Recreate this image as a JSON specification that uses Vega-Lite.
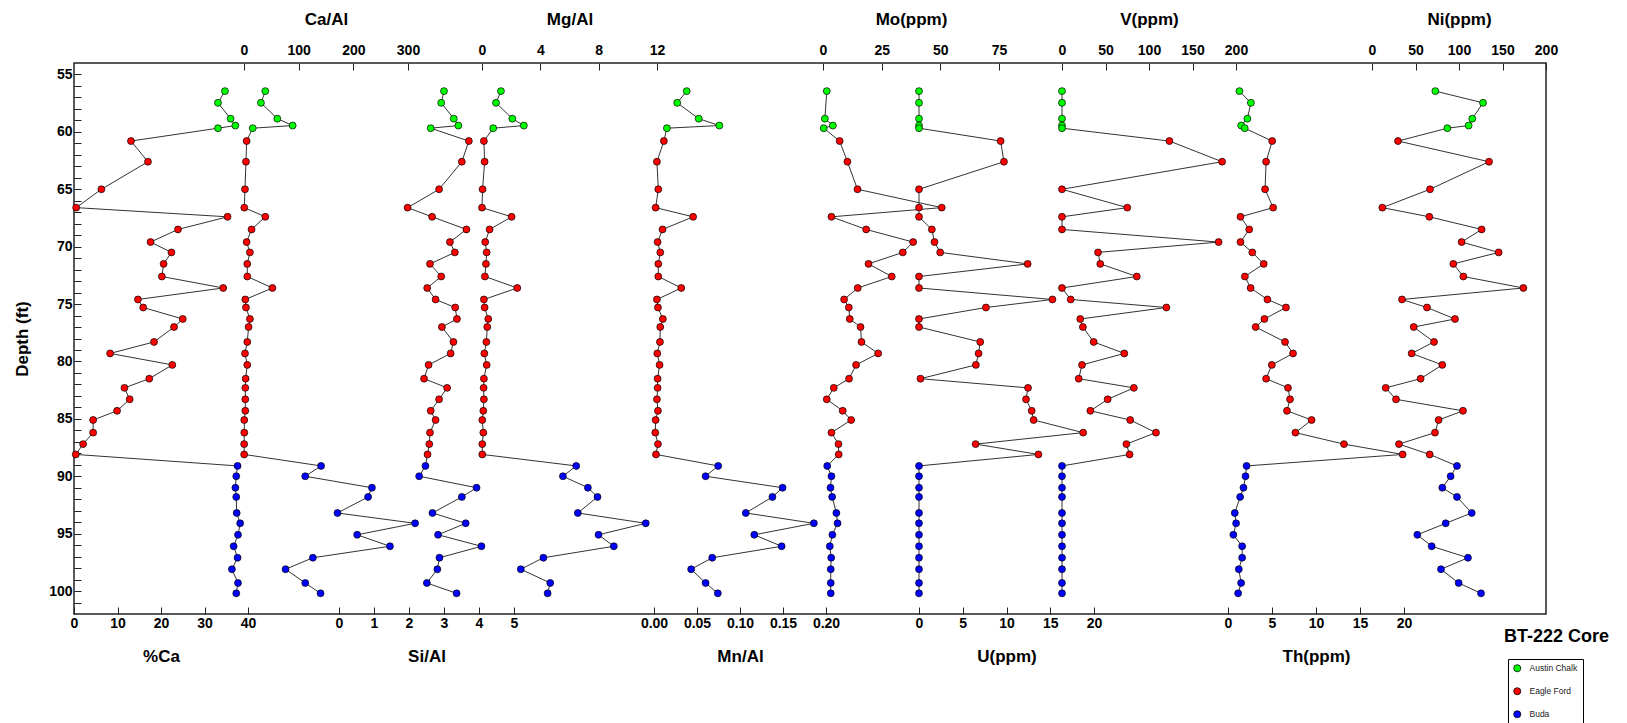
{
  "$schema": "https://vega.github.io/schema/vega-lite/v6.json",
  "width": 1472,
  "height": 551,
  "autosize": {"type": "none"},
  "padding": {"left": 74, "top": 63, "right": 81, "bottom": 109},
  "background": "white",
  "title": {"text": "BT-222 Core", "orient": "bottom", "anchor": "end", "frame": "group", "fontSize": 18, "fontWeight": "bold", "font": "Liberation Sans", "color": "black", "dx": 63, "dy": -102},
  "config": {
    "view": {"stroke": "#222", "strokeWidth": 1.5},
    "axis": {"domain": false, "grid": false, "tickColor": "#222", "tickWidth": 1, "labelFont": "Liberation Sans", "labelFontSize": 14, "labelFontWeight": "bold", "labelColor": "black", "titleFont": "Liberation Sans", "titleFontSize": 17, "titleFontWeight": "bold", "titleColor": "black", "labelFlush": false, "labelOverlap": false, "labelBound": false},
    "axisTop": {"tickSize": -7, "labelPadding": 13, "titlePadding": 15},
    "axisBottom": {"tickSize": -7, "labelPadding": 9, "titlePadding": 18}
  },
  "data": {"values": [
    {"d": 56.45, "f": "Austin Chalk", "ca": 34.7, "caal": 39, "sial": 3.00, "mgal": 1.30, "mnal": 0.038, "mo": 1.6, "u": 0, "v": 0, "th": 1.3, "ni": 72.8},
    {"d": 57.47, "f": "Austin Chalk", "ca": 33.1, "caal": 31, "sial": 2.92, "mgal": 0.96, "mnal": 0.027, "mo": null, "u": 0, "v": 0, "th": 2.6, "ni": 127.6},
    {"d": 58.85, "f": "Austin Chalk", "ca": 36.0, "caal": 61, "sial": 3.28, "mgal": 2.08, "mnal": 0.052, "mo": 0.8, "u": 0, "v": 0, "th": 2.2, "ni": 115.3},
    {"d": 59.45, "f": "Austin Chalk", "ca": 37.1, "caal": 89, "sial": 3.41, "mgal": 2.87, "mnal": 0.076, "mo": 4.2, "u": 0, "v": 0, "th": 1.5, "ni": 111.1},
    {"d": 59.68, "f": "Austin Chalk", "ca": 33.1, "caal": 16, "sial": 2.62, "mgal": 0.77, "mnal": 0.015, "mo": 0.3, "u": 0, "v": 0, "th": 1.9, "ni": 86.6},
    {"d": 60.8, "f": "Eagle Ford", "ca": 13.1, "caal": 4.8, "sial": 3.71, "mgal": 0.13, "mnal": 0.0115, "mo": 7.1, "u": 9.33, "v": 123.5, "th": 5.02, "ni": 29.9},
    {"d": 62.6, "f": "Eagle Ford", "ca": 17.0, "caal": 3.6, "sial": 3.51, "mgal": 0.18, "mnal": 0.0034, "mo": 10.4, "u": 9.71, "v": 184, "th": 4.33, "ni": 134.5},
    {"d": 65.0, "f": "Eagle Ford", "ca": 6.3, "caal": 1.8, "sial": 2.86, "mgal": 0.04, "mnal": 0.005, "mo": 14.7, "u": 0, "v": 0, "th": 4.21, "ni": 66.7},
    {"d": 66.6, "f": "Eagle Ford", "ca": 0.5, "caal": 0.5, "sial": 1.96, "mgal": 0.0, "mnal": 0.0019, "mo": 50.6, "u": 0, "v": 75, "th": 5.13, "ni": 11.9},
    {"d": 67.4, "f": "Eagle Ford", "ca": 35.3, "caal": 39, "sial": 2.66, "mgal": 2.03, "mnal": 0.0455, "mo": 3.6, "u": 0, "v": 0, "th": 1.42, "ni": 65.9},
    {"d": 68.5, "f": "Eagle Ford", "ca": 23.9, "caal": 13.8, "sial": 3.64, "mgal": 0.52, "mnal": 0.0099, "mo": 18.4, "u": 1.47, "v": 0, "th": 2.41, "ni": 126},
    {"d": 69.6, "f": "Eagle Ford", "ca": 17.6, "caal": 4.8, "sial": 3.17, "mgal": 0.22, "mnal": 0.0042, "mo": 38.4, "u": 1.77, "v": 180, "th": 1.42, "ni": 103},
    {"d": 70.5, "f": "Eagle Ford", "ca": 22.4, "caal": 10.8, "sial": 3.31, "mgal": 0.32, "mnal": 0.0073, "mo": 34.0, "u": 2.42, "v": 41.4, "th": 2.76, "ni": 145.6},
    {"d": 71.5, "f": "Eagle Ford", "ca": 20.6, "caal": 6, "sial": 2.60, "mgal": 0.27, "mnal": 0.005, "mo": 19.4, "u": 12.42, "v": 44, "th": 4.06, "ni": 93.5},
    {"d": 72.6, "f": "Eagle Ford", "ca": 20.2, "caal": 6, "sial": 2.92, "mgal": 0.20, "mnal": 0.005, "mo": 29.3, "u": 0, "v": 86, "th": 1.92, "ni": 105},
    {"d": 73.6, "f": "Eagle Ford", "ca": 34.3, "caal": 52, "sial": 2.52, "mgal": 2.42, "mnal": 0.0317, "mo": 14.8, "u": 0, "v": 0, "th": 2.57, "ni": 174},
    {"d": 74.6, "f": "Eagle Ford", "ca": 14.7, "caal": 2.4, "sial": 2.76, "mgal": 0.13, "mnal": 0.0034, "mo": 9.0, "u": 15.25, "v": 10, "th": 4.48, "ni": 34.5},
    {"d": 75.3, "f": "Eagle Ford", "ca": 15.9, "caal": 3.6, "sial": 3.32, "mgal": 0.18, "mnal": 0.0046, "mo": 11.0, "u": 7.65, "v": 120, "th": 6.59, "ni": 63.2},
    {"d": 76.3, "f": "Eagle Ford", "ca": 25.0, "caal": 10.8, "sial": 3.37, "mgal": 0.43, "mnal": 0.0103, "mo": 11.4, "u": 0, "v": 21, "th": 4.14, "ni": 95.4},
    {"d": 77.0, "f": "Eagle Ford", "ca": 23.0, "caal": 8.4, "sial": 2.94, "mgal": 0.36, "mnal": 0.0073, "mo": 16.0, "u": 0, "v": 24, "th": 3.14, "ni": 47.9},
    {"d": 78.3, "f": "Eagle Ford", "ca": 18.4, "caal": 6, "sial": 3.27, "mgal": 0.30, "mnal": 0.0069, "mo": 16.4, "u": 7.0, "v": 36.4, "th": 6.48, "ni": 71.3},
    {"d": 79.3, "f": "Eagle Ford", "ca": 8.3, "caal": 1.8, "sial": 3.19, "mgal": 0.16, "mnal": 0.0038, "mo": 23.5, "u": 6.81, "v": 71.6, "th": 7.39, "ni": 45.6},
    {"d": 80.3, "f": "Eagle Ford", "ca": 22.6, "caal": 6, "sial": 2.56, "mgal": 0.32, "mnal": 0.0065, "mo": 14.1, "u": 6.5, "v": 23, "th": 4.98, "ni": 80.8},
    {"d": 81.5, "f": "Eagle Ford", "ca": 17.3, "caal": 3, "sial": 2.43, "mgal": 0.13, "mnal": 0.0042, "mo": 11.1, "u": 0.17, "v": 19.2, "th": 4.33, "ni": 55.9},
    {"d": 82.3, "f": "Eagle Ford", "ca": 11.6, "caal": 2.4, "sial": 3.09, "mgal": 0.11, "mnal": 0.0042, "mo": 4.6, "u": 12.46, "v": 82.6, "th": 6.82, "ni": 15.7},
    {"d": 83.3, "f": "Eagle Ford", "ca": 12.8, "caal": 2.4, "sial": 2.86, "mgal": 0.13, "mnal": 0.0034, "mo": 1.6, "u": 12.23, "v": 52.5, "th": 7.05, "ni": 27.6},
    {"d": 84.3, "f": "Eagle Ford", "ca": 9.9, "caal": 2.4, "sial": 2.62, "mgal": 0.09, "mnal": 0.0046, "mo": 8.4, "u": 12.88, "v": 32.6, "th": 6.70, "ni": 104.6},
    {"d": 85.1, "f": "Eagle Ford", "ca": 4.4, "caal": 0.5, "sial": 2.76, "mgal": 0.02, "mnal": 0.0019, "mo": 12.0, "u": 13.1, "v": 78.4, "th": 9.50, "ni": 76.6},
    {"d": 86.2, "f": "Eagle Ford", "ca": 4.4, "caal": 0.5, "sial": 2.60, "mgal": 0.09, "mnal": 0.0015, "mo": 3.6, "u": 18.76, "v": 108, "th": 7.66, "ni": 72.4},
    {"d": 87.2, "f": "Eagle Ford", "ca": 2.1, "caal": 0.3, "sial": 2.58, "mgal": 0.02, "mnal": 0.0046, "mo": 6.6, "u": 6.47, "v": 74, "th": 13.18, "ni": 31.0},
    {"d": 88.1, "f": "Eagle Ford", "ca": 0.4, "caal": 0.3, "sial": 2.53, "mgal": 0.02, "mnal": 0.0023, "mo": 6.7, "u": 13.65, "v": 77.7, "th": 19.85, "ni": 66.3},
    {"d": 89.1, "f": "Buda", "ca": 37.6, "caal": 141, "sial": 2.47, "mgal": 6.46, "mnal": 0.0746, "mo": 1.8, "u": 0, "v": 0, "th": 2.11, "ni": 97.7},
    {"d": 90.0, "f": "Buda", "ca": 37.3, "caal": 112, "sial": 2.29, "mgal": 5.55, "mnal": 0.060, "mo": 3.6, "u": 0, "v": 0, "th": 1.99, "ni": 90.4},
    {"d": 91.0, "f": "Buda", "ca": 37.1, "caal": 234, "sial": 3.93, "mgal": 7.26, "mnal": 0.1495, "mo": 3.2, "u": 0, "v": 0, "th": 1.76, "ni": 80.8},
    {"d": 91.8, "f": "Buda", "ca": 37.3, "caal": 227, "sial": 3.51, "mgal": 7.92, "mnal": 0.1377, "mo": 3.9, "u": 0, "v": 0, "th": 1.38, "ni": 97.7},
    {"d": 93.2, "f": "Buda", "ca": 37.4, "caal": 171, "sial": 2.67, "mgal": 6.57, "mnal": 0.1067, "mo": 5.7, "u": 0, "v": 0, "th": 0.77, "ni": 114.6},
    {"d": 94.1, "f": "Buda", "ca": 38.2, "caal": 313, "sial": 3.62, "mgal": 11.23, "mnal": 0.1859, "mo": 6.2, "u": 0, "v": 0, "th": 0.92, "ni": 84.7},
    {"d": 95.1, "f": "Buda", "ca": 37.7, "caal": 207, "sial": 2.83, "mgal": 7.99, "mnal": 0.1166, "mo": 4.0, "u": 0, "v": 0, "th": 0.61, "ni": 52.1},
    {"d": 96.1, "f": "Buda", "ca": 36.7, "caal": 267, "sial": 4.07, "mgal": 9.04, "mnal": 0.1484, "mo": 2.9, "u": 0, "v": 0, "th": 1.61, "ni": 68.6},
    {"d": 97.1, "f": "Buda", "ca": 37.6, "caal": 126, "sial": 2.87, "mgal": 4.21, "mnal": 0.0677, "mo": 3.5, "u": 0, "v": 0, "th": 1.61, "ni": 110.3},
    {"d": 98.1, "f": "Buda", "ca": 36.3, "caal": 76, "sial": 2.81, "mgal": 2.66, "mnal": 0.0432, "mo": 3.3, "u": 0, "v": 0, "th": 1.23, "ni": 79.3},
    {"d": 99.3, "f": "Buda", "ca": 37.7, "caal": 112, "sial": 2.51, "mgal": 4.68, "mnal": 0.060, "mo": 3.3, "u": 0, "v": 0, "th": 1.49, "ni": 99.6},
    {"d": 100.2, "f": "Buda", "ca": 37.3, "caal": 140, "sial": 3.36, "mgal": 4.50, "mnal": 0.0742, "mo": 3.3, "u": 0, "v": 0, "th": 1.15, "ni": 125.3}
  ]},
  "encoding": {
    "y": {"field": "d", "type": "quantitative", "scale": {"domain": [54, 102], "reverse": true, "nice": false, "zero": false},
      "axis": {"orient": "left", "title": "Depth (ft)", "values": [55,56,57,58,59,60,61,62,63,64,65,66,67,68,69,70,71,72,73,74,75,76,77,78,79,80,81,82,83,84,85,86,87,88,89,90,91,92,93,94,95,96,97,98,99,100,101], "labelExpr": "datum.value % 5 === 0 ? datum.label : ''", "tickSize": -7, "labelPadding": 9, "titlePadding": 17}}
  },
  "layer": [
    {"encoding": {"x": {"field": "ca", "type": "quantitative", "scale": {"domain": [0, 40], "range": [0, 174], "nice": false, "zero": false}, "axis": {"orient": "bottom", "title": "%Ca", "values": [0, 10, 20, 30, 40]}}},
     "layer": [
       {"mark": {"type": "line", "color": "#333", "strokeWidth": 1, "invalid": "filter"}, "encoding": {"order": {"field": "d"}}},
       {"mark": {"type": "circle", "size": 48, "stroke": "black", "strokeWidth": 0.7, "opacity": 1}, "encoding": {"color": {"field": "f", "type": "nominal", "scale": {"domain": ["Austin Chalk", "Eagle Ford", "Buda"], "range": ["#00FF00", "#FF0000", "#0000FF"]}, "legend": {"orient": "none", "legendX": 1434, "legendY": 596, "title": null, "strokeColor": "black", "fillColor": "white", "padding": 5, "rowPadding": 12, "labelOffset": 8, "symbolType": "circle", "symbolSize": 50, "symbolStrokeColor": "black", "symbolStrokeWidth": 0.8, "symbolOpacity": 1, "labelFont": "Liberation Sans", "labelFontSize": 8.5, "labelColor": "#222"}}}}
     ]},
    {"encoding": {"x": {"field": "caal", "type": "quantitative", "scale": {"domain": [0, 300], "range": [170, 334], "nice": false, "zero": false}, "axis": {"orient": "top", "title": "Ca/Al", "values": [0, 100, 200, 300]}}},
     "layer": [
       {"mark": {"type": "line", "color": "#333", "strokeWidth": 1, "invalid": "filter"}, "encoding": {"order": {"field": "d"}}},
       {"mark": {"type": "circle", "size": 48, "stroke": "black", "strokeWidth": 0.7, "opacity": 1}, "encoding": {"color": {"field": "f", "type": "nominal"}}}
     ]},
    {"encoding": {"x": {"field": "sial", "type": "quantitative", "scale": {"domain": [0, 5], "range": [265, 440], "nice": false, "zero": false}, "axis": {"orient": "bottom", "title": "Si/Al", "values": [0, 1, 2, 3, 4, 5]}}},
     "layer": [
       {"mark": {"type": "line", "color": "#333", "strokeWidth": 1, "invalid": "filter"}, "encoding": {"order": {"field": "d"}}},
       {"mark": {"type": "circle", "size": 48, "stroke": "black", "strokeWidth": 0.7, "opacity": 1}, "encoding": {"color": {"field": "f", "type": "nominal"}}}
     ]},
    {"encoding": {"x": {"field": "mgal", "type": "quantitative", "scale": {"domain": [0, 12], "range": [408, 583], "nice": false, "zero": false}, "axis": {"orient": "top", "title": "Mg/Al", "values": [0, 4, 8, 12]}}},
     "layer": [
       {"mark": {"type": "line", "color": "#333", "strokeWidth": 1, "invalid": "filter"}, "encoding": {"order": {"field": "d"}}},
       {"mark": {"type": "circle", "size": 48, "stroke": "black", "strokeWidth": 0.7, "opacity": 1}, "encoding": {"color": {"field": "f", "type": "nominal"}}}
     ]},
    {"encoding": {"x": {"field": "mnal", "type": "quantitative", "scale": {"domain": [0, 0.2], "range": [580, 752], "nice": false, "zero": false}, "axis": {"orient": "bottom", "title": "Mn/Al", "values": [0, 0.05, 0.1, 0.15, 0.2], "format": ".2f"}}},
     "layer": [
       {"mark": {"type": "line", "color": "#333", "strokeWidth": 1, "invalid": "filter"}, "encoding": {"order": {"field": "d"}}},
       {"mark": {"type": "circle", "size": 48, "stroke": "black", "strokeWidth": 0.7, "opacity": 1}, "encoding": {"color": {"field": "f", "type": "nominal"}}}
     ]},
    {"encoding": {"x": {"field": "mo", "type": "quantitative", "scale": {"domain": [0, 75], "range": [749, 925], "nice": false, "zero": false}, "axis": {"orient": "top", "title": "Mo(ppm)", "values": [0, 25, 50, 75]}}},
     "layer": [
       {"mark": {"type": "line", "color": "#333", "strokeWidth": 1, "invalid": "filter"}, "encoding": {"order": {"field": "d"}}},
       {"mark": {"type": "circle", "size": 48, "stroke": "black", "strokeWidth": 0.7, "opacity": 1, "invalid": "filter"}, "encoding": {"color": {"field": "f", "type": "nominal"}}}
     ]},
    {"encoding": {"x": {"field": "u", "type": "quantitative", "scale": {"domain": [0, 20], "range": [845, 1020], "nice": false, "zero": false}, "axis": {"orient": "bottom", "title": "U(ppm)", "values": [0, 5, 10, 15, 20]}}},
     "layer": [
       {"mark": {"type": "line", "color": "#333", "strokeWidth": 1, "invalid": "filter"}, "encoding": {"order": {"field": "d"}}},
       {"mark": {"type": "circle", "size": 48, "stroke": "black", "strokeWidth": 0.7, "opacity": 1}, "encoding": {"color": {"field": "f", "type": "nominal"}}}
     ]},
    {"encoding": {"x": {"field": "v", "type": "quantitative", "scale": {"domain": [0, 200], "range": [988, 1162], "nice": false, "zero": false}, "axis": {"orient": "top", "title": "V(ppm)", "values": [0, 50, 100, 150, 200]}}},
     "layer": [
       {"mark": {"type": "line", "color": "#333", "strokeWidth": 1, "invalid": "filter"}, "encoding": {"order": {"field": "d"}}},
       {"mark": {"type": "circle", "size": 48, "stroke": "black", "strokeWidth": 0.7, "opacity": 1}, "encoding": {"color": {"field": "f", "type": "nominal"}}}
     ]},
    {"encoding": {"x": {"field": "th", "type": "quantitative", "scale": {"domain": [0, 20], "range": [1154, 1330], "nice": false, "zero": false}, "axis": {"orient": "bottom", "title": "Th(ppm)", "values": [0, 5, 10, 15, 20]}}},
     "layer": [
       {"mark": {"type": "line", "color": "#333", "strokeWidth": 1, "invalid": "filter"}, "encoding": {"order": {"field": "d"}}},
       {"mark": {"type": "circle", "size": 48, "stroke": "black", "strokeWidth": 0.7, "opacity": 1}, "encoding": {"color": {"field": "f", "type": "nominal"}}}
     ]},
    {"encoding": {"x": {"field": "ni", "type": "quantitative", "scale": {"domain": [0, 200], "range": [1298, 1472], "nice": false, "zero": false}, "axis": {"orient": "top", "title": "Ni(ppm)", "values": [0, 50, 100, 150, 200]}}},
     "layer": [
       {"mark": {"type": "line", "color": "#333", "strokeWidth": 1, "invalid": "filter"}, "encoding": {"order": {"field": "d"}}},
       {"mark": {"type": "circle", "size": 48, "stroke": "black", "strokeWidth": 0.7, "opacity": 1}, "encoding": {"color": {"field": "f", "type": "nominal"}}}
     ]}
  ],
  "resolve": {"scale": {"x": "independent"}, "axis": {"x": "independent"}}
}
